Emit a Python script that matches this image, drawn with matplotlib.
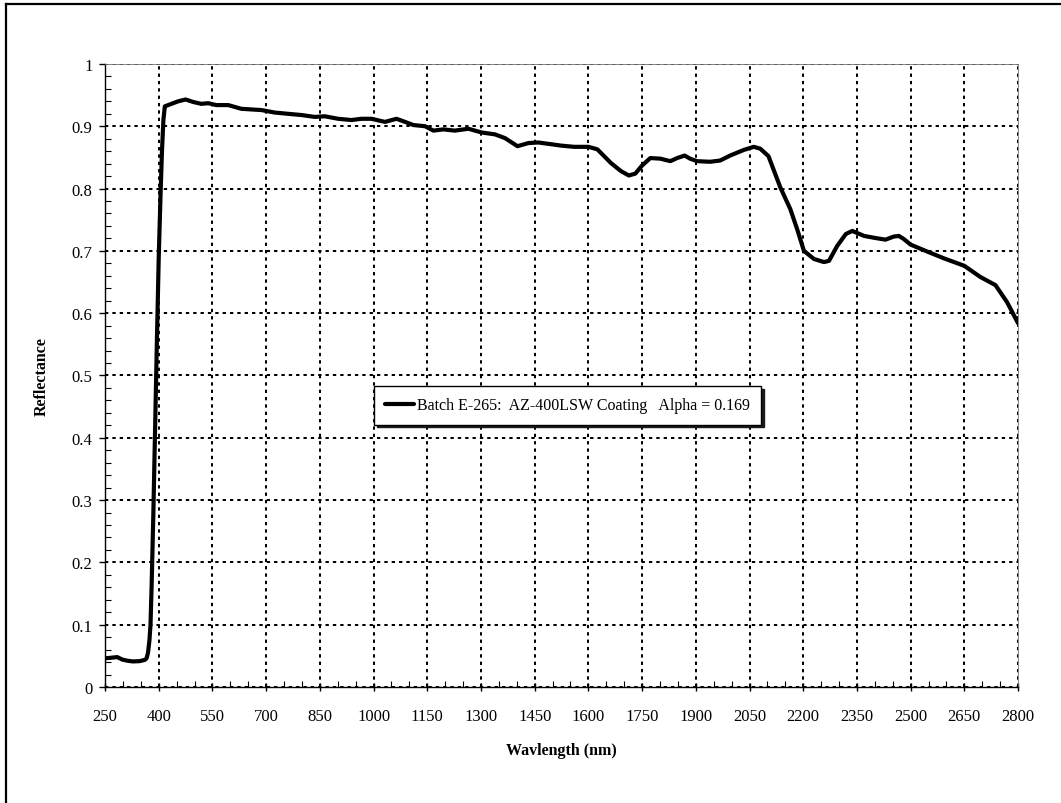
import matplotlib
matplotlib.use("Agg")
import matplotlib.pyplot as plt
from matplotlib.lines import Line2D
from matplotlib.ticker import MultipleLocator, FixedLocator

plt.rcParams['font.family'] = ['Liberation Serif', 'DejaVu Serif']

# spectral reflectance, batch E-265
wavelength = [250, 268, 284, 298, 314, 328, 347, 361, 366, 370, 374, 377, 380,
              385, 390, 395, 400, 405, 409, 413, 417, 431, 454, 475, 496, 519,
              538, 561, 594, 631, 659, 687, 724, 761, 799, 836, 864, 901, 938,
              966, 994, 1032, 1064, 1088, 1111, 1144, 1167, 1195, 1227, 1265,
              1302, 1339, 1367, 1402, 1432, 1460, 1498, 1523, 1560, 1600, 1625,
              1663, 1691, 1713, 1731, 1750, 1773, 1801, 1829, 1848, 1869, 1884,
              1903, 1940, 1968, 1996, 2034, 2062, 2080, 2103, 2136, 2164, 2183,
              2202, 2230, 2258, 2272, 2295, 2319, 2337, 2370, 2398, 2430, 2453,
              2467, 2481, 2500, 2546, 2593, 2650, 2695, 2737, 2769, 2800]
reflectance = [0.046, 0.047, 0.048, 0.044, 0.042, 0.041, 0.0415, 0.0435, 0.046,
               0.055, 0.075, 0.10, 0.16, 0.28, 0.42, 0.56, 0.69, 0.79, 0.86,
               0.91, 0.932, 0.935, 0.940, 0.943, 0.939, 0.936, 0.937, 0.934,
               0.934, 0.928, 0.927, 0.926, 0.922, 0.920, 0.918, 0.915, 0.916,
               0.912, 0.910, 0.912, 0.912, 0.907, 0.912, 0.907, 0.902, 0.900,
               0.893, 0.895, 0.893, 0.896, 0.890, 0.887, 0.881, 0.868, 0.873,
               0.874, 0.871, 0.869, 0.867, 0.867, 0.863, 0.841, 0.828, 0.821,
               0.824, 0.837, 0.849, 0.848, 0.844, 0.849, 0.853, 0.848, 0.844,
               0.843, 0.845, 0.853, 0.862, 0.867, 0.864, 0.852, 0.802, 0.767,
               0.735, 0.700, 0.687, 0.682, 0.684, 0.708, 0.727, 0.732, 0.724,
               0.721, 0.718, 0.723, 0.724, 0.719, 0.710, 0.699, 0.688, 0.676,
               0.658, 0.645, 0.618, 0.584]

x_ticks = list(range(250, 2801, 150))
y_ticks = [0, 0.1, 0.2, 0.3, 0.4, 0.5, 0.6, 0.7, 0.8, 0.9, 1]
y_tick_labels = ['0', '0.1', '0.2', '0.3', '0.4', '0.5', '0.6', '0.7', '0.8', '0.9', '1']
series_label = 'Batch E-265:  AZ-400LSW Coating   Alpha = 0.169'

fig = plt.figure(figsize=(10.61, 8.04), dpi=100)
ax = fig.add_axes([0.099, 0.1443, 0.8605, 0.7749])

ax.plot(wavelength, reflectance, color='black', lw=3, solid_joinstyle='round',
        solid_capstyle='round', label=series_label, zorder=3)

ax.set_xlim(250, 2800)
ax.set_ylim(0, 1)
ax.xaxis.set_major_locator(FixedLocator(x_ticks))
ax.xaxis.set_minor_locator(MultipleLocator(50))
ax.yaxis.set_major_locator(FixedLocator(y_ticks))
ax.yaxis.set_minor_locator(MultipleLocator(0.02))
ax.set_yticklabels(y_tick_labels)

ax.grid(True, which='major', color='black', lw=1.45, linestyle=(0, (1.65, 2.0)))
ax.tick_params(axis='x', which='major', direction='inout', length=6, width=1,
               labelsize=12, pad=12)
ax.tick_params(axis='y', which='major', direction='out', length=4, width=1,
               labelsize=12, pad=5)
ax.tick_params(which='minor', direction='in', length=4, width=0.8)
ax.tick_params(top=False, right=False, which='both')

for side in ['left', 'bottom']:
    ax.spines[side].set_linewidth(1.0)
for side in ['top', 'right']:
    ax.spines[side].set_linewidth(0.6)
    ax.spines[side].set_color('0.45')

ax.set_xlabel('Wavlength (nm)', fontsize=11.5, fontweight='bold', labelpad=13)
ax.set_ylabel('Reflectance', fontsize=11.5, fontweight='bold', labelpad=16)

leg = ax.legend(loc='center', bbox_to_anchor=(0.5066, 0.452), fontsize=11.5,
                fancybox=False, framealpha=1, edgecolor='black',
                shadow={'facecolor': '0.1', 'edgecolor': '0.1', 'alpha': 1},
                handlelength=1.8, handletextpad=0.2, borderpad=0.7)
leg.get_frame().set_linewidth(1.0)

# frame around the whole chart area
fig.add_artist(Line2D([6 / 1061, 6 / 1061], [0, 1 - 5 / 804], color='black',
                      lw=1.6, transform=fig.transFigure))
fig.add_artist(Line2D([6 / 1061, 1], [1 - 5 / 804, 1 - 5 / 804], color='black',
                      lw=1.6, transform=fig.transFigure))

fig.savefig('out.png', dpi=100)
